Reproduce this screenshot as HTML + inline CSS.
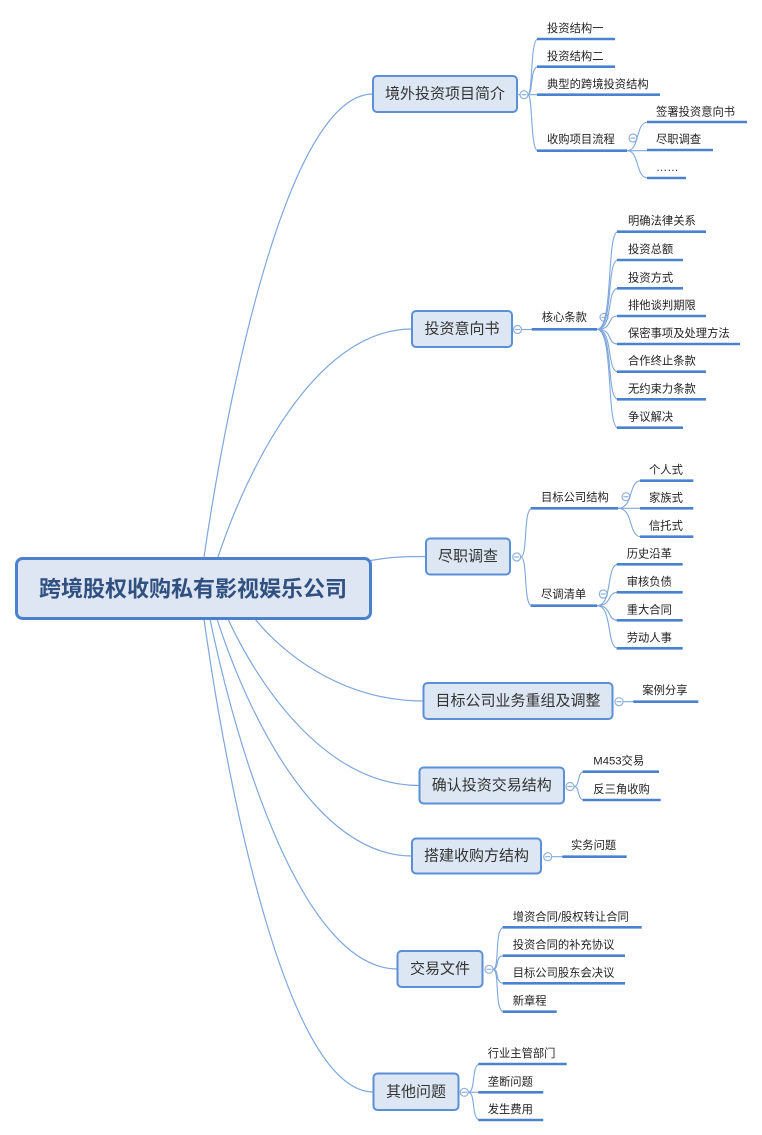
<!DOCTYPE html>
<html><head><meta charset="utf-8">
<style>
html,body{margin:0;padding:0;background:#fff;}
svg{display:block;}
text{font-family:"Liberation Sans","Noto Sans CJK SC","WenQuanYi Zen Hei",sans-serif;}
.mt{font-size:15px;fill:#333;text-anchor:middle;dominant-baseline:central;}
.st{font-size:11.3px;fill:#222;}
.box{fill:#dde7f3;stroke:#5b8fd6;stroke-width:2;}
.cv{fill:none;stroke:#7ea7dc;stroke-width:1.2;}
.ul{stroke:#4a82d0;stroke-width:2.6;}
.br{fill:none;stroke:#7ea7dc;stroke-width:1.1;}
.ci{fill:#fff;stroke:#8fb0dd;stroke-width:1.2;}
.cm{stroke:#8fb0dd;stroke-width:1.2;}
</style></head>
<body>
<svg width="762" height="1135" viewBox="0 0 762 1135" xmlns="http://www.w3.org/2000/svg">
<!-- root curves -->
<path class="cv" d="M204 557 C230 380 290 94 373 94"/>
<path class="cv" d="M218 557 C247 470 315 329 412 329"/>
<path class="cv" d="M368 561 C390 557 402 556.5 426 556.5"/>
<path class="cv" d="M255 619 C280 650 339 701 423.5 701"/>
<path class="cv" d="M228 619 C257 682 324 785.5 419.5 785.5"/>
<path class="cv" d="M217 619 C246 709 314 856 412 856"/>
<path class="cv" d="M210 619 C238 755 304 969 397.5 969"/>
<path class="cv" d="M204 619 C229 799 289 1092 373.5 1092"/>

<!-- root -->
<rect x="16.5" y="558.5" width="354" height="60" rx="6" fill="#dde6f2" stroke="#4a80cc" stroke-width="3"/>
<text x="193" y="589" style="font-size:22px;font-weight:bold;fill:#2f5080;text-anchor:middle;dominant-baseline:central;">跨境股权收购私有影视娱乐公司</text>

<!-- Branch 1 -->
<rect class="box" x="373" y="76" width="144" height="36" rx="4"/>
<text class="mt" x="445" y="94">境外投资项目简介</text>
<line class="br" x1="517" y1="94.7" x2="520" y2="94.7"/>
<circle class="ci" cx="524" cy="94.7" r="4"/><line class="cm" x1="521.5" y1="94.7" x2="526.5" y2="94.7"/>
<path class="br" d="M528 94.7 C533 94.7 530 39 538 39"/>
<path class="br" d="M528 94.7 C533 94.7 530 66.7 538 66.7"/>
<path class="br" d="M528 94.7 L538 94.7"/>
<path class="br" d="M528 94.7 C533 94.7 530 150.7 538 150.7"/>
<line class="ul" x1="537" y1="39" x2="615" y2="39"/><text class="st" x="547" y="32">投资结构一</text>
<line class="ul" x1="537" y1="66.7" x2="615" y2="66.7"/><text class="st" x="547" y="60">投资结构二</text>
<line class="ul" x1="537" y1="94.7" x2="660" y2="94.7"/><text class="st" x="547" y="88">典型的跨境投资结构</text>
<line class="ul" x1="537" y1="150.7" x2="627" y2="150.7"/><text class="st" x="547" y="143">收购项目流程</text>
<circle class="ci" cx="633" cy="138" r="4"/><line class="cm" x1="630.5" y1="138" x2="635.5" y2="138"/>
<path class="br" d="M627 150.7 C640 150.7 635 122 648 122"/>
<path class="br" d="M627 150.7 L648 150.7"/>
<path class="br" d="M627 150.7 C640 150.7 635 178 648 178"/>
<line class="ul" x1="647" y1="122" x2="747" y2="122"/><text class="st" x="656" y="115.5">签署投资意向书</text>
<line class="ul" x1="647" y1="150" x2="713" y2="150"/><text class="st" x="656" y="143">尽职调查</text>
<line class="ul" x1="647" y1="178" x2="686" y2="178"/><text class="st" x="656" y="171">……</text>

<!-- Branch 2 -->
<rect class="box" x="412" y="311" width="100" height="36" rx="4"/>
<text class="mt" x="462" y="329">投资意向书</text>
<circle class="ci" cx="517.5" cy="329.5" r="4"/><line class="cm" x1="515" y1="329.5" x2="520" y2="329.5"/>
<line class="br" x1="521.5" y1="329.5" x2="532" y2="329.5"/>
<line class="ul" x1="531.7" y1="329.3" x2="597" y2="329.3"/><text class="st" x="541.7" y="321">核心条款</text>
<circle class="ci" cx="604" cy="317.3" r="4"/><line class="cm" x1="601.5" y1="317.3" x2="606.5" y2="317.3"/>
<path class="br" d="M597 329.3 C614 329.3 606 231.7 618 231.7"/>
<path class="br" d="M597 329.3 C614 329.3 606 260 618 260"/>
<path class="br" d="M597 329.3 C614 329.3 606 288.3 618 288.3"/>
<path class="br" d="M597 329.3 C614 329.3 606 316 618 316"/>
<path class="br" d="M597 329.3 C614 329.3 606 344 618 344"/>
<path class="br" d="M597 329.3 C614 329.3 606 371.7 618 371.7"/>
<path class="br" d="M597 329.3 C614 329.3 606 399.3 618 399.3"/>
<path class="br" d="M597 329.3 C614 329.3 606 427.7 618 427.7"/>
<line class="ul" x1="617" y1="231.7" x2="706" y2="231.7"/><text class="st" x="628" y="224.7">明确法律关系</text>
<line class="ul" x1="617" y1="260" x2="683" y2="260"/><text class="st" x="628" y="253">投资总额</text>
<line class="ul" x1="617" y1="288.3" x2="683" y2="288.3"/><text class="st" x="628" y="281.3">投资方式</text>
<line class="ul" x1="617" y1="316" x2="706" y2="316"/><text class="st" x="628" y="309">排他谈判期限</text>
<line class="ul" x1="617" y1="344" x2="740" y2="344"/><text class="st" x="628" y="337">保密事项及处理方法</text>
<line class="ul" x1="617" y1="371.7" x2="706" y2="371.7"/><text class="st" x="628" y="364.7">合作终止条款</text>
<line class="ul" x1="617" y1="399.3" x2="706" y2="399.3"/><text class="st" x="628" y="392.3">无约束力条款</text>
<line class="ul" x1="617" y1="427.7" x2="683" y2="427.7"/><text class="st" x="628" y="420.7">争议解决</text>

<!-- Branch 3 -->
<rect class="box" x="426" y="538.5" width="84" height="36" rx="4"/>
<text class="mt" x="468" y="556.5">尽职调查</text>
<circle class="ci" cx="516.7" cy="557" r="4"/><line class="cm" x1="514.2" y1="557" x2="519.2" y2="557"/>
<path class="br" d="M520.7 557 C528 557 523 508.3 532 508.3"/>
<path class="br" d="M520.7 557 C528 557 523 605.7 532 605.7"/>
<line class="ul" x1="530.7" y1="508.3" x2="618" y2="508.3"/><text class="st" x="541" y="501">目标公司结构</text>
<circle class="ci" cx="626" cy="496.7" r="4"/><line class="cm" x1="623.5" y1="496.7" x2="628.5" y2="496.7"/>
<path class="br" d="M618 508.3 C634 508.3 628 480.7 641 480.7"/>
<path class="br" d="M618 508.3 L641 508.3"/>
<path class="br" d="M618 508.3 C634 508.3 628 536.7 641 536.7"/>
<line class="ul" x1="640" y1="480.7" x2="693.3" y2="480.7"/><text class="st" x="649" y="473.7">个人式</text>
<line class="ul" x1="640" y1="508.3" x2="693.3" y2="508.3"/><text class="st" x="649" y="501.3">家族式</text>
<line class="ul" x1="640" y1="536.7" x2="693.3" y2="536.7"/><text class="st" x="649" y="529.7">信托式</text>
<line class="ul" x1="530.7" y1="605.7" x2="597" y2="605.7"/><text class="st" x="541" y="598">尽调清单</text>
<circle class="ci" cx="603.3" cy="594" r="4"/><line class="cm" x1="600.8" y1="594" x2="605.8" y2="594"/>
<path class="br" d="M597 605.7 C613 605.7 606 564.3 618 564.3"/>
<path class="br" d="M597 605.7 C613 605.7 606 592.3 618 592.3"/>
<path class="br" d="M597 605.7 C613 605.7 606 620.3 618 620.3"/>
<path class="br" d="M597 605.7 C613 605.7 606 648.3 618 648.3"/>
<line class="ul" x1="616.7" y1="564.3" x2="682.7" y2="564.3"/><text class="st" x="626.7" y="557.3">历史沿革</text>
<line class="ul" x1="616.7" y1="592.3" x2="682.7" y2="592.3"/><text class="st" x="626.7" y="585.3">审核负债</text>
<line class="ul" x1="616.7" y1="620.3" x2="682.7" y2="620.3"/><text class="st" x="626.7" y="613.3">重大合同</text>
<line class="ul" x1="616.7" y1="648.3" x2="682.7" y2="648.3"/><text class="st" x="626.7" y="641.3">劳动人事</text>

<!-- Branch 4 -->
<rect class="box" x="423.5" y="683" width="189" height="36" rx="4"/>
<text class="mt" x="518" y="701">目标公司业务重组及调整</text>
<circle class="ci" cx="619" cy="701.7" r="4"/><line class="cm" x1="616.5" y1="701.7" x2="621.5" y2="701.7"/>
<line class="br" x1="623" y1="701.7" x2="634" y2="701.7"/>
<line class="ul" x1="633.3" y1="701.7" x2="698.3" y2="701.7"/><text class="st" x="642.3" y="694">案例分享</text>

<!-- Branch 5 -->
<rect class="box" x="419.5" y="767.5" width="144.5" height="36" rx="4"/>
<text class="mt" x="491.7" y="785.5">确认投资交易结构</text>
<circle class="ci" cx="570" cy="786.5" r="4"/><line class="cm" x1="567.5" y1="786.5" x2="572.5" y2="786.5"/>
<path class="br" d="M574 786.5 C580 786.5 577 771.7 584 771.7"/>
<path class="br" d="M574 786.5 C580 786.5 577 800 584 800"/>
<line class="ul" x1="582.7" y1="771.7" x2="659" y2="771.7"/><text class="st" x="593.3" y="764.5">M453交易</text>
<line class="ul" x1="582.7" y1="800" x2="660.7" y2="800"/><text class="st" x="593.3" y="793">反三角收购</text>

<!-- Branch 6 -->
<rect class="box" x="412" y="838.5" width="129" height="35" rx="4"/>
<text class="mt" x="476.5" y="856">搭建收购方结构</text>
<circle class="ci" cx="547.7" cy="856.7" r="4"/><line class="cm" x1="545.2" y1="856.7" x2="550.2" y2="856.7"/>
<line class="br" x1="551.7" y1="856.7" x2="563" y2="856.7"/>
<line class="ul" x1="562.3" y1="856.7" x2="626.7" y2="856.7"/><text class="st" x="571" y="849">实务问题</text>

<!-- Branch 7 -->
<rect class="box" x="397.5" y="951" width="85" height="36" rx="4"/>
<text class="mt" x="440" y="969">交易文件</text>
<circle class="ci" cx="489" cy="969.3" r="4"/><line class="cm" x1="486.5" y1="969.3" x2="491.5" y2="969.3"/>
<path class="br" d="M493 969.3 C500 969.3 494 927.3 504 927.3"/>
<path class="br" d="M493 969.3 C500 969.3 494 955.7 504 955.7"/>
<path class="br" d="M493 969.3 C500 969.3 494 983.3 504 983.3"/>
<path class="br" d="M493 969.3 C500 969.3 494 1011.7 504 1011.7"/>
<line class="ul" x1="502.7" y1="927.3" x2="641.7" y2="927.3"/><text class="st" x="512.7" y="920.3">增资合同/股权转让合同</text>
<line class="ul" x1="502.7" y1="955.7" x2="625" y2="955.7"/><text class="st" x="512.7" y="948.7">投资合同的补充协议</text>
<line class="ul" x1="502.7" y1="983.3" x2="625" y2="983.3"/><text class="st" x="512.7" y="976.3">目标公司股东会决议</text>
<line class="ul" x1="502.7" y1="1011.7" x2="556.7" y2="1011.7"/><text class="st" x="512.7" y="1004.7">新章程</text>

<!-- Branch 8 -->
<rect class="box" x="373.5" y="1073.5" width="85" height="36.5" rx="4"/>
<text class="mt" x="416" y="1092">其他问题</text>
<circle class="ci" cx="464.3" cy="1092.3" r="4"/><line class="cm" x1="461.8" y1="1092.3" x2="466.8" y2="1092.3"/>
<path class="br" d="M468.3 1092.3 C476 1092.3 471 1064 480 1064"/>
<path class="br" d="M468.3 1092.3 L480 1092.3"/>
<path class="br" d="M468.3 1092.3 C476 1092.3 471 1120 480 1120"/>
<line class="ul" x1="478.3" y1="1064" x2="566.7" y2="1064"/><text class="st" x="487.7" y="1057">行业主管部门</text>
<line class="ul" x1="478.3" y1="1092.3" x2="543.3" y2="1092.3"/><text class="st" x="487.7" y="1085.3">垄断问题</text>
<line class="ul" x1="478.3" y1="1120" x2="543.3" y2="1120"/><text class="st" x="487.7" y="1113">发生费用</text>
</svg>
</body></html>
